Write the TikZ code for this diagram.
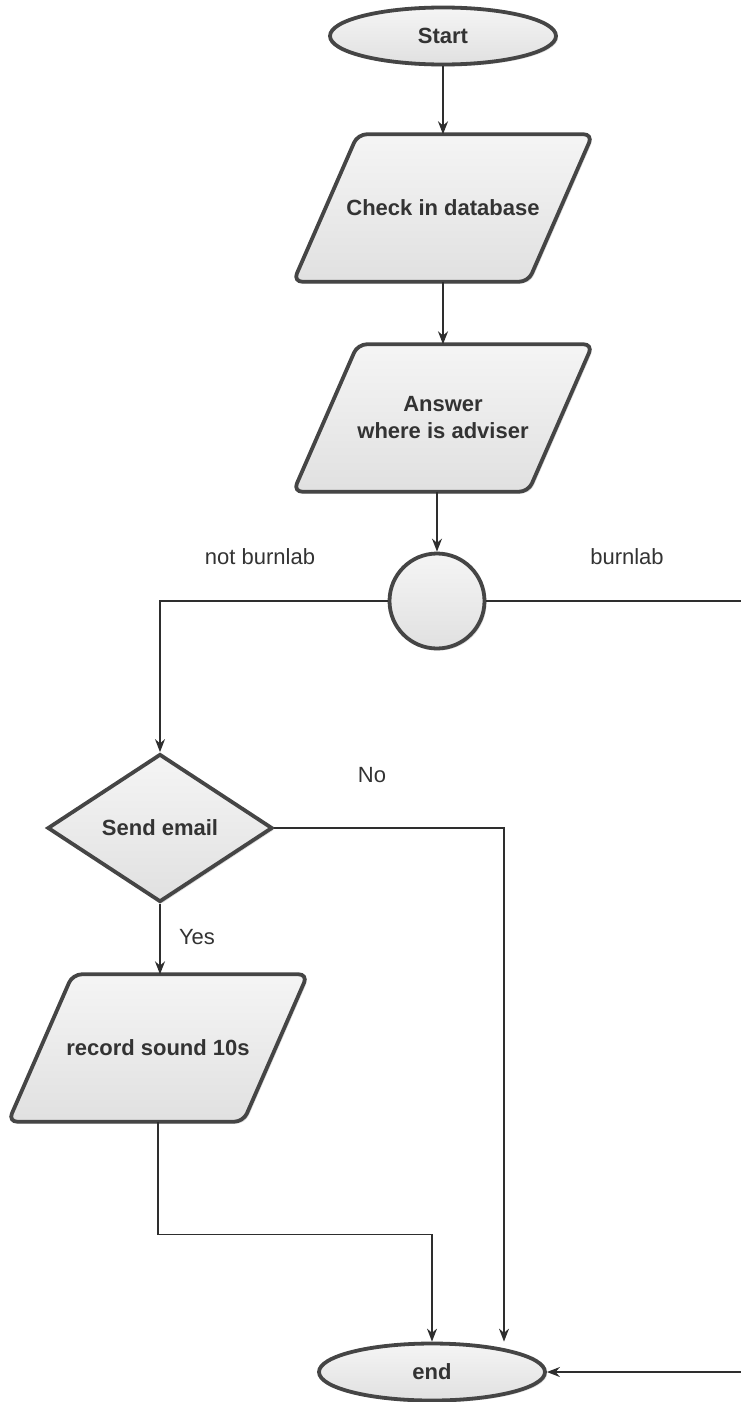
\documentclass[tikz,border=0pt]{standalone}
\usepackage{fontspec}
\setmainfont{Liberation Sans}
\usetikzlibrary{shapes.geometric,arrows.meta,shadows,calc}
\pgfdeclarelayer{background}
\pgfsetlayers{background,main}
\definecolor{bord}{HTML}{454545}
\definecolor{lnk}{HTML}{2E2E2E}
\definecolor{txt}{HTML}{333333}
\tikzset{
 shp/.style={draw=bord, line width=3.8pt, top color=gray!8, bottom color=gray!24,
   drop shadow={shadow xshift=2pt,shadow yshift=-2pt,opacity=0.25}},
 lbl/.style={font=\fontsize{22}{27}\selectfont\bfseries, text=txt, align=center},
 term/.style={shp, lbl, ellipse, minimum width=226pt, minimum height=57pt, inner sep=0pt},
 iobox/.style={lbl, rectangle, minimum width=299pt, minimum height=147pt, inner sep=0pt},
 iopath/.style={shp, rounded corners=9pt},
 decide/.style={shp, lbl, diamond, minimum width=225pt, minimum height=148pt, inner sep=0pt, aspect=1.52},
 junc/.style={shp, circle, minimum size=95pt, inner sep=0pt},
 conn/.style={draw=lnk, line width=1.4pt, -{Stealth[length=13pt,width=10pt]}},
 wire/.style={draw=lnk, line width=1.4pt},
 note/.style={font=\fontsize{22}{26}\selectfont, text=txt},
}
\begin{document}
\begin{tikzpicture}[x=1pt,y=-1pt]
\useasboundingbox (0,0) rectangle (741,1402);
\node[term] (start) at (443,36) {Start};
\node[iobox] (chk) at (443,208) {Check in database};
\node[iobox] (ans) at (443,418) {Answer\\where is adviser};
\node[junc] (jn) at (437,601) {};
\node[decide] (mail) at (160,828) {Send email};
\node[iobox] (rec) at (158,1048) {record sound 10s};
\node[term] (end) at (432,1372) {end};
\begin{pgfonlayer}{background}
\foreach \n in {chk,ans,rec}
  \path[iopath] (\n.south west) -- ++(235,0) -- (\n.north east) -- ++(-235,0) -- cycle;
\end{pgfonlayer}
\node[note] (nb) at (260,557) {not burnlab};
\node[note] (b) at (627,557) {burnlab};
\node[note] (no) at (372,775) {No};
\node[note] (yes) at (197,937) {Yes};
\coordinate (rgt) at (741,601);
\coordinate (rgt2) at (741,1372);
\coordinate (nox) at (504,0);
\draw[conn] (start) -- (chk);
\draw[conn] (chk) -- (ans);
\draw[conn] (jn |- ans.south) -- (jn.north);
\draw[conn] (jn.west) -| (mail.north);
\draw[wire] (jn.east) -- (rgt);
\draw[conn] (mail.east) -| (nox |- end.north);
\draw[conn] (mail.south) -- (mail.south |- rec.north);
\draw[conn] (rec.south) -- ++(0,113) -| (end.north);
\draw[conn] (rgt2) -- (end.east);
\end{tikzpicture}
\end{document}
